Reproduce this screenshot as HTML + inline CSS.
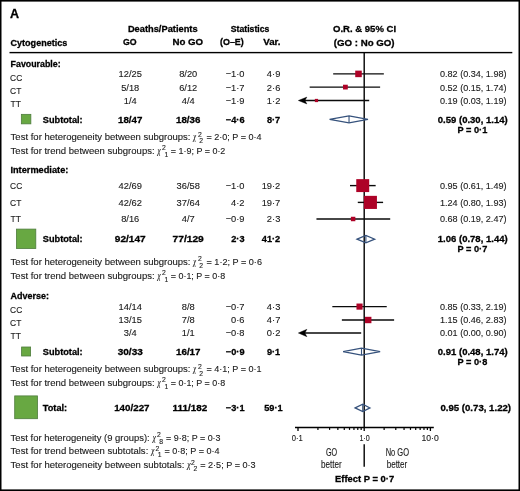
<!DOCTYPE html>
<html><head><meta charset="utf-8"><style>
html,body{margin:0;padding:0;background:#fff;}
body{width:520px;height:491px;overflow:hidden;}
svg{display:block;font-family:"Liberation Sans", Arial, sans-serif;}
</style></head><body>
<svg width="520" height="491" viewBox="0 0 520 491">
<rect width="520" height="491" fill="#fff"/>
<rect x="0.00" y="0.00" width="520.00" height="1.60" fill="#000"/>
<rect x="0.00" y="0.00" width="1.50" height="491.00" fill="#000"/>
<rect x="518.50" y="0.00" width="1.50" height="491.00" fill="#000"/>
<rect x="0.00" y="489.40" width="520.00" height="1.60" fill="#000"/>
<text x="9.90" y="17.7" font-size="12.4" font-weight="bold" stroke="#000" stroke-width="0.28" textLength="9.05" lengthAdjust="spacingAndGlyphs" fill="#000">A</text>
<text x="127.90" y="32.3" font-size="9.2" font-weight="bold" stroke="#000" stroke-width="0.28" textLength="69.71" lengthAdjust="spacingAndGlyphs" fill="#000">Deaths/Patients</text>
<text x="230.75" y="32.3" font-size="9.2" font-weight="bold" stroke="#000" stroke-width="0.28" textLength="38.60" lengthAdjust="spacingAndGlyphs" fill="#000">Statistics</text>
<text x="333.00" y="32.4" font-size="9.2" font-weight="bold" stroke="#000" stroke-width="0.28" textLength="63.07" lengthAdjust="spacingAndGlyphs" fill="#000">O.R. &amp; 95% CI</text>
<text x="10.50" y="45.8" font-size="9.2" font-weight="bold" stroke="#000" stroke-width="0.28" textLength="56.81" lengthAdjust="spacingAndGlyphs" fill="#000">Cytogenetics</text>
<text x="123.00" y="45.4" font-size="9.2" font-weight="bold" stroke="#000" stroke-width="0.28" textLength="13.64" lengthAdjust="spacingAndGlyphs" fill="#000">GO</text>
<text x="172.50" y="45.4" font-size="9.2" font-weight="bold" stroke="#000" stroke-width="0.28" textLength="30.65" lengthAdjust="spacingAndGlyphs" fill="#000">No GO</text>
<text x="220.00" y="45.4" font-size="9.2" font-weight="bold" stroke="#000" stroke-width="0.28" textLength="23.81" lengthAdjust="spacingAndGlyphs" fill="#000">(O–E)</text>
<text x="263.25" y="45.4" font-size="9.2" font-weight="bold" stroke="#000" stroke-width="0.28" textLength="17.34" lengthAdjust="spacingAndGlyphs" fill="#000">Var.</text>
<text x="333.75" y="45.5" font-size="9.2" font-weight="bold" stroke="#000" stroke-width="0.28" textLength="60.81" lengthAdjust="spacingAndGlyphs" fill="#000">(GO : No GO)</text>
<rect x="9.50" y="51.90" width="502.80" height="1.40" fill="#000"/>
<line x1="364.20" y1="53.00" x2="364.20" y2="427.50" stroke="#000" stroke-width="1.4"/>
<text x="10.60" y="66.9" font-size="9.2" font-weight="bold" stroke="#000" stroke-width="0.28" textLength="50.06" lengthAdjust="spacingAndGlyphs" fill="#000">Favourable:</text>
<text x="10.10" y="80.6" font-size="9.8" stroke="#1a1a1a" stroke-width="0.12" textLength="12.16" lengthAdjust="spacingAndGlyphs" fill="#1a1a1a">CC</text>
<text x="130.2" y="77.3" font-size="9.3" stroke="#1a1a1a" stroke-width="0.12" text-anchor="middle" fill="#1a1a1a">12/25</text>
<text x="188.2" y="77.3" font-size="9.3" stroke="#1a1a1a" stroke-width="0.12" text-anchor="middle" fill="#1a1a1a">8/20</text>
<text x="244.5" y="77.3" font-size="9.3" stroke="#1a1a1a" stroke-width="0.12" text-anchor="end" fill="#1a1a1a">−1·0</text>
<text x="280.3" y="77.3" font-size="9.3" stroke="#1a1a1a" stroke-width="0.12" text-anchor="end" fill="#1a1a1a">4·9</text>
<text x="440.00" y="77.3" font-size="9.3" stroke="#1a1a1a" stroke-width="0.12" textLength="66.49" lengthAdjust="spacingAndGlyphs" fill="#1a1a1a">0.82 (0.34, 1.98)</text>
<text x="10.10" y="93.9" font-size="9.8" stroke="#1a1a1a" stroke-width="0.12" textLength="11.29" lengthAdjust="spacingAndGlyphs" fill="#1a1a1a">CT</text>
<text x="130.2" y="90.5" font-size="9.3" stroke="#1a1a1a" stroke-width="0.12" text-anchor="middle" fill="#1a1a1a">5/18</text>
<text x="188.2" y="90.5" font-size="9.3" stroke="#1a1a1a" stroke-width="0.12" text-anchor="middle" fill="#1a1a1a">6/12</text>
<text x="244.5" y="90.5" font-size="9.3" stroke="#1a1a1a" stroke-width="0.12" text-anchor="end" fill="#1a1a1a">−1·7</text>
<text x="280.3" y="90.5" font-size="9.3" stroke="#1a1a1a" stroke-width="0.12" text-anchor="end" fill="#1a1a1a">2·6</text>
<text x="440.00" y="90.5" font-size="9.3" stroke="#1a1a1a" stroke-width="0.12" textLength="66.49" lengthAdjust="spacingAndGlyphs" fill="#1a1a1a">0.52 (0.15, 1.74)</text>
<text x="10.40" y="106.6" font-size="9.8" stroke="#1a1a1a" stroke-width="0.12" textLength="10.49" lengthAdjust="spacingAndGlyphs" fill="#1a1a1a">TT</text>
<text x="130.2" y="103.6" font-size="9.3" stroke="#1a1a1a" stroke-width="0.12" text-anchor="middle" fill="#1a1a1a">1/4</text>
<text x="188.2" y="103.6" font-size="9.3" stroke="#1a1a1a" stroke-width="0.12" text-anchor="middle" fill="#1a1a1a">4/4</text>
<text x="244.5" y="103.6" font-size="9.3" stroke="#1a1a1a" stroke-width="0.12" text-anchor="end" fill="#1a1a1a">−1·9</text>
<text x="280.3" y="103.6" font-size="9.3" stroke="#1a1a1a" stroke-width="0.12" text-anchor="end" fill="#1a1a1a">1·2</text>
<text x="440.00" y="103.6" font-size="9.3" stroke="#1a1a1a" stroke-width="0.12" textLength="66.49" lengthAdjust="spacingAndGlyphs" fill="#1a1a1a">0.19 (0.03, 1.19)</text>
<line x1="333.18" y1="73.90" x2="383.84" y2="73.90" stroke="#0a0a0a" stroke-width="1.4"/>
<rect x="355.23" y="70.63" width="6.53" height="6.53" fill="#ad0227"/>
<line x1="309.66" y1="87.10" x2="380.12" y2="87.10" stroke="#0a0a0a" stroke-width="1.4"/>
<rect x="343.02" y="84.72" width="4.76" height="4.76" fill="#ad0227"/>
<line x1="302.30" y1="100.50" x2="369.20" y2="100.50" stroke="#0a0a0a" stroke-width="1.4"/>
<path d="M298.30,100.5 L306.90,97.10 L304.90,100.5 L306.90,103.90 Z" fill="#000" stroke="#000" stroke-width="0.4" stroke-linejoin="round"/>
<rect x="314.84" y="98.88" width="3.23" height="3.23" fill="#ad0227"/>
<rect x="21.35" y="114.35" width="9.50" height="9.50" fill="#68a842" stroke="#4e7c3c" stroke-width="0.8"/>
<text x="42.8" y="122.6" font-size="9.2" font-weight="bold" stroke="#000" stroke-width="0.28" fill="#000">Subtotal:</text>
<text x="130.2" y="122.6" font-size="9.2" font-weight="bold" stroke="#000" stroke-width="0.28" text-anchor="middle" textLength="24.37" lengthAdjust="spacingAndGlyphs" fill="#000">18/47</text>
<text x="188.2" y="122.6" font-size="9.2" font-weight="bold" stroke="#000" stroke-width="0.28" text-anchor="middle" textLength="24.37" lengthAdjust="spacingAndGlyphs" fill="#000">18/36</text>
<text x="244.5" y="122.6" font-size="9.2" font-weight="bold" stroke="#000" stroke-width="0.28" text-anchor="end" fill="#000">−4·6</text>
<text x="280.2" y="122.6" font-size="9.2" font-weight="bold" stroke="#000" stroke-width="0.28" text-anchor="end" fill="#000">8·7</text>
<text x="437.80" y="122.6" font-size="9.2" font-weight="bold" stroke="#000" stroke-width="0.28" textLength="69.86" lengthAdjust="spacingAndGlyphs" fill="#000">0.59 (0.30, 1.14)</text>
<text x="472.4" y="132.8" font-size="9.2" font-weight="bold" stroke="#000" stroke-width="0.28" text-anchor="middle" fill="#000">P = 0·1</text>
<path d="M329.59,119.4 L349.03,116.0 L367.97,119.4 L349.03,122.80000000000001 Z" fill="none" stroke="#36527c" stroke-width="1.25" stroke-linejoin="miter"/>
<line x1="349.03" y1="116.00" x2="349.03" y2="122.80" stroke="#36527c" stroke-width="1.1"/>
<text x="10.60" y="140.2" font-size="9.3" stroke="#1a1a1a" stroke-width="0.12" textLength="179.90" lengthAdjust="spacingAndGlyphs" fill="#1a1a1a">Test for heterogeneity between subgroups:</text>
<text x="193.35" y="140.2" font-size="9.8" stroke="#1a1a1a" stroke-width="0.12" font-family="Liberation Serif, serif" font-style="italic" textLength="2.80" lengthAdjust="spacingAndGlyphs" fill="#1a1a1a">χ</text>
<text x="198.1" y="136.6" font-size="6.8" stroke="#1a1a1a" stroke-width="0.12" fill="#1a1a1a">2</text>
<text x="199.2" y="143.29999999999998" font-size="6.8" stroke="#1a1a1a" stroke-width="0.12" fill="#1a1a1a">2</text>
<text x="206.50" y="140.2" font-size="9.3" stroke="#1a1a1a" stroke-width="0.12" textLength="55.07" lengthAdjust="spacingAndGlyphs" fill="#1a1a1a">= 2·0; P = 0·4</text>
<text x="10.60" y="153.8" font-size="9.3" stroke="#1a1a1a" stroke-width="0.12" textLength="144.00" lengthAdjust="spacingAndGlyphs" fill="#1a1a1a">Test for trend between subgroups:</text>
<text x="157.53" y="153.8" font-size="9.8" stroke="#1a1a1a" stroke-width="0.12" font-family="Liberation Serif, serif" font-style="italic" textLength="3.16" lengthAdjust="spacingAndGlyphs" fill="#1a1a1a">χ</text>
<text x="161.9" y="150.20000000000002" font-size="6.8" stroke="#1a1a1a" stroke-width="0.12" fill="#1a1a1a">2</text>
<text x="164.5" y="156.9" font-size="6.8" stroke="#1a1a1a" stroke-width="0.12" fill="#1a1a1a">1</text>
<text x="170.80" y="153.8" font-size="9.3" stroke="#1a1a1a" stroke-width="0.12" textLength="54.56" lengthAdjust="spacingAndGlyphs" fill="#1a1a1a">= 1·9; P = 0·2</text>
<text x="10.40" y="172.5" font-size="9.2" font-weight="bold" stroke="#000" stroke-width="0.28" textLength="57.96" lengthAdjust="spacingAndGlyphs" fill="#000">Intermediate:</text>
<text x="10.10" y="188.9" font-size="9.8" stroke="#1a1a1a" stroke-width="0.12" textLength="12.16" lengthAdjust="spacingAndGlyphs" fill="#1a1a1a">CC</text>
<text x="130.2" y="188.9" font-size="9.3" stroke="#1a1a1a" stroke-width="0.12" text-anchor="middle" fill="#1a1a1a">42/69</text>
<text x="188.2" y="188.9" font-size="9.3" stroke="#1a1a1a" stroke-width="0.12" text-anchor="middle" fill="#1a1a1a">36/58</text>
<text x="244.5" y="188.9" font-size="9.3" stroke="#1a1a1a" stroke-width="0.12" text-anchor="end" fill="#1a1a1a">−1·0</text>
<text x="280.3" y="188.9" font-size="9.3" stroke="#1a1a1a" stroke-width="0.12" text-anchor="end" fill="#1a1a1a">19·2</text>
<text x="440.00" y="188.9" font-size="9.3" stroke="#1a1a1a" stroke-width="0.12" textLength="66.49" lengthAdjust="spacingAndGlyphs" fill="#1a1a1a">0.95 (0.61, 1.49)</text>
<text x="10.10" y="205.6" font-size="9.8" stroke="#1a1a1a" stroke-width="0.12" textLength="11.29" lengthAdjust="spacingAndGlyphs" fill="#1a1a1a">CT</text>
<text x="130.2" y="205.6" font-size="9.3" stroke="#1a1a1a" stroke-width="0.12" text-anchor="middle" fill="#1a1a1a">42/62</text>
<text x="188.2" y="205.6" font-size="9.3" stroke="#1a1a1a" stroke-width="0.12" text-anchor="middle" fill="#1a1a1a">37/64</text>
<text x="244.5" y="205.6" font-size="9.3" stroke="#1a1a1a" stroke-width="0.12" text-anchor="end" fill="#1a1a1a">4·2</text>
<text x="280.3" y="205.6" font-size="9.3" stroke="#1a1a1a" stroke-width="0.12" text-anchor="end" fill="#1a1a1a">19·7</text>
<text x="440.00" y="205.6" font-size="9.3" stroke="#1a1a1a" stroke-width="0.12" textLength="66.49" lengthAdjust="spacingAndGlyphs" fill="#1a1a1a">1.24 (0.80, 1.93)</text>
<text x="10.40" y="221.6" font-size="9.8" stroke="#1a1a1a" stroke-width="0.12" textLength="10.49" lengthAdjust="spacingAndGlyphs" fill="#1a1a1a">TT</text>
<text x="130.2" y="221.6" font-size="9.3" stroke="#1a1a1a" stroke-width="0.12" text-anchor="middle" fill="#1a1a1a">8/16</text>
<text x="188.2" y="221.6" font-size="9.3" stroke="#1a1a1a" stroke-width="0.12" text-anchor="middle" fill="#1a1a1a">4/7</text>
<text x="244.5" y="221.6" font-size="9.3" stroke="#1a1a1a" stroke-width="0.12" text-anchor="end" fill="#1a1a1a">−0·9</text>
<text x="280.3" y="221.6" font-size="9.3" stroke="#1a1a1a" stroke-width="0.12" text-anchor="end" fill="#1a1a1a">2·3</text>
<text x="440.00" y="221.6" font-size="9.3" stroke="#1a1a1a" stroke-width="0.12" textLength="66.49" lengthAdjust="spacingAndGlyphs" fill="#1a1a1a">0.68 (0.19, 2.47)</text>
<line x1="349.99" y1="185.60" x2="375.66" y2="185.60" stroke="#0a0a0a" stroke-width="1.4"/>
<rect x="356.26" y="179.14" width="12.93" height="12.93" fill="#ad0227"/>
<line x1="357.78" y1="202.40" x2="383.10" y2="202.40" stroke="#0a0a0a" stroke-width="1.4"/>
<rect x="363.84" y="195.85" width="13.09" height="13.09" fill="#ad0227"/>
<line x1="316.45" y1="219.00" x2="390.20" y2="219.00" stroke="#0a0a0a" stroke-width="1.4"/>
<rect x="350.88" y="216.76" width="4.47" height="4.47" fill="#ad0227"/>
<rect x="16.40" y="229.10" width="19.40" height="19.40" fill="#68a842" stroke="#4e7c3c" stroke-width="0.8"/>
<text x="42.8" y="242.2" font-size="9.2" font-weight="bold" stroke="#000" stroke-width="0.28" fill="#000">Subtotal:</text>
<text x="114.80" y="242.2" font-size="9.2" font-weight="bold" stroke="#000" stroke-width="0.28" textLength="30.92" lengthAdjust="spacingAndGlyphs" fill="#000">92/147</text>
<text x="172.50" y="242.2" font-size="9.2" font-weight="bold" stroke="#000" stroke-width="0.28" textLength="31.32" lengthAdjust="spacingAndGlyphs" fill="#000">77/129</text>
<text x="244.5" y="242.2" font-size="9.2" font-weight="bold" stroke="#000" stroke-width="0.28" text-anchor="end" fill="#000">2·3</text>
<text x="280.2" y="242.2" font-size="9.2" font-weight="bold" stroke="#000" stroke-width="0.28" text-anchor="end" fill="#000">41·2</text>
<text x="437.80" y="242.2" font-size="9.2" font-weight="bold" stroke="#000" stroke-width="0.28" textLength="69.86" lengthAdjust="spacingAndGlyphs" fill="#000">1.06 (0.78, 1.44)</text>
<text x="472.4" y="252.0" font-size="9.2" font-weight="bold" stroke="#000" stroke-width="0.28" text-anchor="middle" fill="#000">P = 0·7</text>
<path d="M357.06,239.2 L365.88,235.5 L374.68,239.2 L365.88,242.89999999999998 Z" fill="none" stroke="#36527c" stroke-width="1.25" stroke-linejoin="miter"/>
<line x1="365.88" y1="235.50" x2="365.88" y2="242.90" stroke="#36527c" stroke-width="1.1"/>
<text x="10.60" y="265.0" font-size="9.3" stroke="#1a1a1a" stroke-width="0.12" textLength="179.90" lengthAdjust="spacingAndGlyphs" fill="#1a1a1a">Test for heterogeneity between subgroups:</text>
<text x="193.35" y="265.0" font-size="9.8" stroke="#1a1a1a" stroke-width="0.12" font-family="Liberation Serif, serif" font-style="italic" textLength="2.80" lengthAdjust="spacingAndGlyphs" fill="#1a1a1a">χ</text>
<text x="198.1" y="261.4" font-size="6.8" stroke="#1a1a1a" stroke-width="0.12" fill="#1a1a1a">2</text>
<text x="199.2" y="268.1" font-size="6.8" stroke="#1a1a1a" stroke-width="0.12" fill="#1a1a1a">2</text>
<text x="206.50" y="265.0" font-size="9.3" stroke="#1a1a1a" stroke-width="0.12" textLength="55.47" lengthAdjust="spacingAndGlyphs" fill="#1a1a1a">= 1·2; P = 0·6</text>
<text x="10.60" y="278.8" font-size="9.3" stroke="#1a1a1a" stroke-width="0.12" textLength="144.00" lengthAdjust="spacingAndGlyphs" fill="#1a1a1a">Test for trend between subgroups:</text>
<text x="157.53" y="278.8" font-size="9.8" stroke="#1a1a1a" stroke-width="0.12" font-family="Liberation Serif, serif" font-style="italic" textLength="3.16" lengthAdjust="spacingAndGlyphs" fill="#1a1a1a">χ</text>
<text x="161.9" y="275.2" font-size="6.8" stroke="#1a1a1a" stroke-width="0.12" fill="#1a1a1a">2</text>
<text x="164.5" y="281.90000000000003" font-size="6.8" stroke="#1a1a1a" stroke-width="0.12" fill="#1a1a1a">1</text>
<text x="170.80" y="278.8" font-size="9.3" stroke="#1a1a1a" stroke-width="0.12" textLength="54.36" lengthAdjust="spacingAndGlyphs" fill="#1a1a1a">= 0·1; P = 0·8</text>
<text x="10.60" y="299.2" font-size="9.2" font-weight="bold" stroke="#000" stroke-width="0.28" textLength="38.36" lengthAdjust="spacingAndGlyphs" fill="#000">Adverse:</text>
<text x="10.10" y="312.6" font-size="9.8" stroke="#1a1a1a" stroke-width="0.12" textLength="12.16" lengthAdjust="spacingAndGlyphs" fill="#1a1a1a">CC</text>
<text x="130.2" y="309.8" font-size="9.3" stroke="#1a1a1a" stroke-width="0.12" text-anchor="middle" fill="#1a1a1a">14/14</text>
<text x="188.2" y="309.8" font-size="9.3" stroke="#1a1a1a" stroke-width="0.12" text-anchor="middle" fill="#1a1a1a">8/8</text>
<text x="244.5" y="309.8" font-size="9.3" stroke="#1a1a1a" stroke-width="0.12" text-anchor="end" fill="#1a1a1a">−0·7</text>
<text x="280.3" y="309.8" font-size="9.3" stroke="#1a1a1a" stroke-width="0.12" text-anchor="end" fill="#1a1a1a">4·3</text>
<text x="440.00" y="309.8" font-size="9.3" stroke="#1a1a1a" stroke-width="0.12" textLength="66.49" lengthAdjust="spacingAndGlyphs" fill="#1a1a1a">0.85 (0.33, 2.19)</text>
<text x="10.10" y="325.9" font-size="9.8" stroke="#1a1a1a" stroke-width="0.12" textLength="11.29" lengthAdjust="spacingAndGlyphs" fill="#1a1a1a">CT</text>
<text x="130.2" y="323.1" font-size="9.3" stroke="#1a1a1a" stroke-width="0.12" text-anchor="middle" fill="#1a1a1a">13/15</text>
<text x="188.2" y="323.1" font-size="9.3" stroke="#1a1a1a" stroke-width="0.12" text-anchor="middle" fill="#1a1a1a">7/8</text>
<text x="244.5" y="323.1" font-size="9.3" stroke="#1a1a1a" stroke-width="0.12" text-anchor="end" fill="#1a1a1a">0·6</text>
<text x="280.3" y="323.1" font-size="9.3" stroke="#1a1a1a" stroke-width="0.12" text-anchor="end" fill="#1a1a1a">4·7</text>
<text x="440.00" y="323.1" font-size="9.3" stroke="#1a1a1a" stroke-width="0.12" textLength="66.49" lengthAdjust="spacingAndGlyphs" fill="#1a1a1a">1.15 (0.46, 2.83)</text>
<text x="10.40" y="339.0" font-size="9.8" stroke="#1a1a1a" stroke-width="0.12" textLength="10.49" lengthAdjust="spacingAndGlyphs" fill="#1a1a1a">TT</text>
<text x="130.2" y="336.2" font-size="9.3" stroke="#1a1a1a" stroke-width="0.12" text-anchor="middle" fill="#1a1a1a">3/4</text>
<text x="188.2" y="336.2" font-size="9.3" stroke="#1a1a1a" stroke-width="0.12" text-anchor="middle" fill="#1a1a1a">1/1</text>
<text x="244.5" y="336.2" font-size="9.3" stroke="#1a1a1a" stroke-width="0.12" text-anchor="end" fill="#1a1a1a">−0·8</text>
<text x="280.3" y="336.2" font-size="9.3" stroke="#1a1a1a" stroke-width="0.12" text-anchor="end" fill="#1a1a1a">0·2</text>
<text x="440.00" y="336.2" font-size="9.3" stroke="#1a1a1a" stroke-width="0.12" textLength="66.49" lengthAdjust="spacingAndGlyphs" fill="#1a1a1a">0.01 (0.00, 0.90)</text>
<line x1="332.33" y1="306.60" x2="386.74" y2="306.60" stroke="#0a0a0a" stroke-width="1.4"/>
<rect x="356.47" y="303.54" width="6.12" height="6.12" fill="#ad0227"/>
<line x1="341.87" y1="320.00" x2="394.11" y2="320.00" stroke="#0a0a0a" stroke-width="1.4"/>
<rect x="365.02" y="316.80" width="6.40" height="6.40" fill="#ad0227"/>
<line x1="302.30" y1="333.00" x2="361.17" y2="333.00" stroke="#0a0a0a" stroke-width="1.4"/>
<path d="M298.30,333.0 L306.90,329.30 L304.90,333.0 L306.90,336.70 Z" fill="#000" stroke="#000" stroke-width="0.4" stroke-linejoin="round"/>
<rect x="21.60" y="347.00" width="9.00" height="9.00" fill="#68a842" stroke="#4e7c3c" stroke-width="0.8"/>
<text x="42.8" y="354.8" font-size="9.2" font-weight="bold" stroke="#000" stroke-width="0.28" fill="#000">Subtotal:</text>
<text x="117.70" y="354.8" font-size="9.2" font-weight="bold" stroke="#000" stroke-width="0.28" textLength="25.12" lengthAdjust="spacingAndGlyphs" fill="#000">30/33</text>
<text x="176.00" y="354.8" font-size="9.2" font-weight="bold" stroke="#000" stroke-width="0.28" textLength="24.52" lengthAdjust="spacingAndGlyphs" fill="#000">16/17</text>
<text x="244.5" y="354.8" font-size="9.2" font-weight="bold" stroke="#000" stroke-width="0.28" text-anchor="end" fill="#000">−0·9</text>
<text x="280.2" y="354.8" font-size="9.2" font-weight="bold" stroke="#000" stroke-width="0.28" text-anchor="end" fill="#000">9·1</text>
<text x="437.80" y="354.8" font-size="9.2" font-weight="bold" stroke="#000" stroke-width="0.28" textLength="69.86" lengthAdjust="spacingAndGlyphs" fill="#000">0.91 (0.48, 1.74)</text>
<text x="472.4" y="365.0" font-size="9.2" font-weight="bold" stroke="#000" stroke-width="0.28" text-anchor="middle" fill="#000">P = 0·8</text>
<path d="M343.10,351.6 L361.49,348.20000000000005 L380.12,351.6 L361.49,355.0 Z" fill="none" stroke="#36527c" stroke-width="1.25" stroke-linejoin="miter"/>
<line x1="361.49" y1="348.20" x2="361.49" y2="355.00" stroke="#36527c" stroke-width="1.1"/>
<text x="10.60" y="372.4" font-size="9.3" stroke="#1a1a1a" stroke-width="0.12" textLength="179.90" lengthAdjust="spacingAndGlyphs" fill="#1a1a1a">Test for heterogeneity between subgroups:</text>
<text x="193.35" y="372.4" font-size="9.8" stroke="#1a1a1a" stroke-width="0.12" font-family="Liberation Serif, serif" font-style="italic" textLength="2.80" lengthAdjust="spacingAndGlyphs" fill="#1a1a1a">χ</text>
<text x="198.1" y="368.79999999999995" font-size="6.8" stroke="#1a1a1a" stroke-width="0.12" fill="#1a1a1a">2</text>
<text x="199.2" y="375.5" font-size="6.8" stroke="#1a1a1a" stroke-width="0.12" fill="#1a1a1a">2</text>
<text x="206.50" y="372.4" font-size="9.3" stroke="#1a1a1a" stroke-width="0.12" textLength="55.07" lengthAdjust="spacingAndGlyphs" fill="#1a1a1a">= 4·1; P = 0·1</text>
<text x="10.60" y="386.0" font-size="9.3" stroke="#1a1a1a" stroke-width="0.12" textLength="144.00" lengthAdjust="spacingAndGlyphs" fill="#1a1a1a">Test for trend between subgroups:</text>
<text x="157.53" y="386.0" font-size="9.8" stroke="#1a1a1a" stroke-width="0.12" font-family="Liberation Serif, serif" font-style="italic" textLength="3.16" lengthAdjust="spacingAndGlyphs" fill="#1a1a1a">χ</text>
<text x="161.9" y="382.4" font-size="6.8" stroke="#1a1a1a" stroke-width="0.12" fill="#1a1a1a">2</text>
<text x="164.5" y="389.1" font-size="6.8" stroke="#1a1a1a" stroke-width="0.12" fill="#1a1a1a">1</text>
<text x="170.80" y="386.0" font-size="9.3" stroke="#1a1a1a" stroke-width="0.12" textLength="54.36" lengthAdjust="spacingAndGlyphs" fill="#1a1a1a">= 0·1; P = 0·8</text>
<rect x="14.70" y="395.90" width="22.80" height="22.80" fill="#68a842" stroke="#4e7c3c" stroke-width="0.8"/>
<text x="42.8" y="410.8" font-size="9.2" font-weight="bold" stroke="#000" stroke-width="0.28" fill="#000">Total:</text>
<text x="114.20" y="410.8" font-size="9.2" font-weight="bold" stroke="#000" stroke-width="0.28" textLength="35.32" lengthAdjust="spacingAndGlyphs" fill="#000">140/227</text>
<text x="172.50" y="410.8" font-size="9.2" font-weight="bold" stroke="#000" stroke-width="0.28" textLength="34.72" lengthAdjust="spacingAndGlyphs" fill="#000">111/182</text>
<text x="244.5" y="410.8" font-size="9.2" font-weight="bold" stroke="#000" stroke-width="0.28" text-anchor="end" fill="#000">−3·1</text>
<text x="282.6" y="410.8" font-size="9.2" font-weight="bold" stroke="#000" stroke-width="0.28" text-anchor="end" fill="#000">59·1</text>
<text x="440.40" y="410.8" font-size="9.2" font-weight="bold" stroke="#000" stroke-width="0.28" textLength="70.66" lengthAdjust="spacingAndGlyphs" fill="#000">0.95 (0.73, 1.22)</text>
<path d="M355.15,407.9 L362.73,404.29999999999995 L369.92,407.9 L362.73,411.5 Z" fill="none" stroke="#36527c" stroke-width="1.25" stroke-linejoin="miter"/>
<line x1="362.73" y1="404.30" x2="362.73" y2="411.50" stroke="#36527c" stroke-width="1.1"/>
<line x1="295.00" y1="427.40" x2="433.80" y2="427.40" stroke="#000" stroke-width="1.5"/>
<line x1="298.00" y1="427.40" x2="298.00" y2="431.00" stroke="#000" stroke-width="1.3"/>
<line x1="364.20" y1="427.40" x2="364.20" y2="431.00" stroke="#000" stroke-width="1.3"/>
<line x1="430.40" y1="427.40" x2="430.40" y2="431.00" stroke="#000" stroke-width="1.3"/>
<line x1="317.93" y1="427.40" x2="317.93" y2="429.90" stroke="#000" stroke-width="1.2"/>
<line x1="329.59" y1="427.40" x2="329.59" y2="429.90" stroke="#000" stroke-width="1.2"/>
<line x1="337.86" y1="427.40" x2="337.86" y2="429.90" stroke="#000" stroke-width="1.2"/>
<line x1="344.27" y1="427.40" x2="344.27" y2="429.90" stroke="#000" stroke-width="1.2"/>
<line x1="349.51" y1="427.40" x2="349.51" y2="429.90" stroke="#000" stroke-width="1.2"/>
<line x1="353.95" y1="427.40" x2="353.95" y2="429.90" stroke="#000" stroke-width="1.2"/>
<line x1="357.78" y1="427.40" x2="357.78" y2="429.90" stroke="#000" stroke-width="1.2"/>
<line x1="361.17" y1="427.40" x2="361.17" y2="429.90" stroke="#000" stroke-width="1.2"/>
<line x1="384.13" y1="427.40" x2="384.13" y2="429.90" stroke="#000" stroke-width="1.2"/>
<line x1="395.79" y1="427.40" x2="395.79" y2="429.90" stroke="#000" stroke-width="1.2"/>
<line x1="404.06" y1="427.40" x2="404.06" y2="429.90" stroke="#000" stroke-width="1.2"/>
<line x1="410.47" y1="427.40" x2="410.47" y2="429.90" stroke="#000" stroke-width="1.2"/>
<line x1="415.71" y1="427.40" x2="415.71" y2="429.90" stroke="#000" stroke-width="1.2"/>
<line x1="420.15" y1="427.40" x2="420.15" y2="429.90" stroke="#000" stroke-width="1.2"/>
<line x1="423.98" y1="427.40" x2="423.98" y2="429.90" stroke="#000" stroke-width="1.2"/>
<line x1="427.37" y1="427.40" x2="427.37" y2="429.90" stroke="#000" stroke-width="1.2"/>
<text x="291.80" y="440.8" font-size="8.6" stroke="#1a1a1a" stroke-width="0.12" textLength="11.00" lengthAdjust="spacingAndGlyphs" fill="#1a1a1a">0·1</text>
<text x="359.40" y="440.9" font-size="8.6" stroke="#1a1a1a" stroke-width="0.12" textLength="10.32" lengthAdjust="spacingAndGlyphs" fill="#1a1a1a">1·0</text>
<text x="421.50" y="440.8" font-size="8.6" stroke="#1a1a1a" stroke-width="0.12" textLength="17.28" lengthAdjust="spacingAndGlyphs" fill="#1a1a1a">10·0</text>
<line x1="364.20" y1="444.20" x2="364.20" y2="466.80" stroke="#000" stroke-width="1.4"/>
<text x="325.90" y="456.1" font-size="10.4" stroke="#1a1a1a" stroke-width="0.12" textLength="11.16" lengthAdjust="spacingAndGlyphs" fill="#1a1a1a">GO</text>
<text x="321.00" y="468.2" font-size="10.4" stroke="#1a1a1a" stroke-width="0.12" textLength="20.68" lengthAdjust="spacingAndGlyphs" fill="#1a1a1a">better</text>
<text x="385.70" y="456.1" font-size="10.4" stroke="#1a1a1a" stroke-width="0.12" textLength="23.36" lengthAdjust="spacingAndGlyphs" fill="#1a1a1a">No GO</text>
<text x="386.70" y="468.2" font-size="10.4" stroke="#1a1a1a" stroke-width="0.12" textLength="20.58" lengthAdjust="spacingAndGlyphs" fill="#1a1a1a">better</text>
<text x="335.00" y="481.5" font-size="9.2" font-weight="bold" stroke="#000" stroke-width="0.28" textLength="59.11" lengthAdjust="spacingAndGlyphs" fill="#000">Effect P = 0·7</text>
<text x="10.60" y="440.6" font-size="9.3" stroke="#1a1a1a" stroke-width="0.12" textLength="139.09" lengthAdjust="spacingAndGlyphs" fill="#1a1a1a">Test for heterogeneity (9 groups):</text>
<text x="152.63" y="440.6" font-size="9.8" stroke="#1a1a1a" stroke-width="0.12" font-family="Liberation Serif, serif" font-style="italic" textLength="3.16" lengthAdjust="spacingAndGlyphs" fill="#1a1a1a">χ</text>
<text x="157.0" y="437.0" font-size="6.8" stroke="#1a1a1a" stroke-width="0.12" fill="#1a1a1a">2</text>
<text x="159.29999999999998" y="443.70000000000005" font-size="6.8" stroke="#1a1a1a" stroke-width="0.12" fill="#1a1a1a">8</text>
<text x="166.10" y="440.6" font-size="9.3" stroke="#1a1a1a" stroke-width="0.12" textLength="54.46" lengthAdjust="spacingAndGlyphs" fill="#1a1a1a">= 9·8; P = 0·3</text>
<text x="10.60" y="454.2" font-size="9.3" stroke="#1a1a1a" stroke-width="0.12" textLength="137.70" lengthAdjust="spacingAndGlyphs" fill="#1a1a1a">Test for trend between subtotals:</text>
<text x="151.22" y="454.2" font-size="9.8" stroke="#1a1a1a" stroke-width="0.12" font-family="Liberation Serif, serif" font-style="italic" textLength="3.09" lengthAdjust="spacingAndGlyphs" fill="#1a1a1a">χ</text>
<text x="155.6" y="450.59999999999997" font-size="6.8" stroke="#1a1a1a" stroke-width="0.12" fill="#1a1a1a">2</text>
<text x="157.7" y="457.3" font-size="6.8" stroke="#1a1a1a" stroke-width="0.12" fill="#1a1a1a">1</text>
<text x="164.40" y="454.2" font-size="9.3" stroke="#1a1a1a" stroke-width="0.12" textLength="55.17" lengthAdjust="spacingAndGlyphs" fill="#1a1a1a">= 0·8; P = 0·4</text>
<text x="10.60" y="468.1" font-size="9.3" stroke="#1a1a1a" stroke-width="0.12" textLength="173.70" lengthAdjust="spacingAndGlyphs" fill="#1a1a1a">Test for heterogeneity between subtotals:</text>
<text x="187.28" y="468.1" font-size="9.8" stroke="#1a1a1a" stroke-width="0.12" font-family="Liberation Serif, serif" font-style="italic" textLength="3.38" lengthAdjust="spacingAndGlyphs" fill="#1a1a1a">χ</text>
<text x="191.1" y="464.5" font-size="6.8" stroke="#1a1a1a" stroke-width="0.12" fill="#1a1a1a">2</text>
<text x="193.4" y="471.20000000000005" font-size="6.8" stroke="#1a1a1a" stroke-width="0.12" fill="#1a1a1a">2</text>
<text x="200.20" y="468.1" font-size="9.3" stroke="#1a1a1a" stroke-width="0.12" textLength="55.47" lengthAdjust="spacingAndGlyphs" fill="#1a1a1a">= 2·5; P = 0·3</text>
</svg>
</body></html>
